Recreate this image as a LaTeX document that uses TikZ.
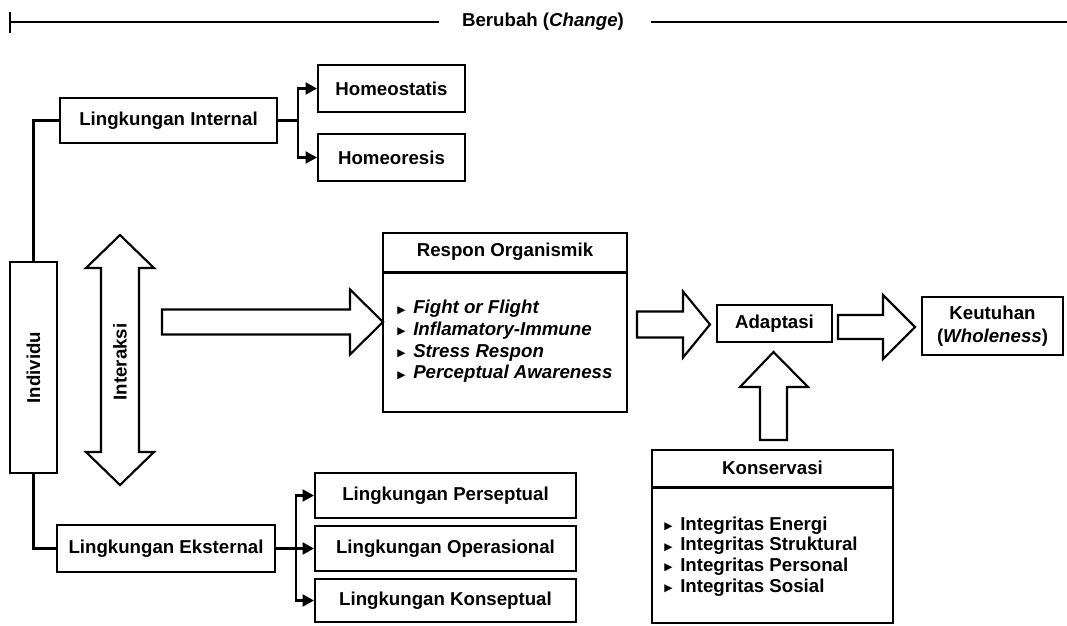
\documentclass[tikz,border=0pt]{standalone}
\usepackage{fontspec}
\setmainfont{Liberation Sans}
\newfontfamily\symfont{DejaVu Sans}
\usetikzlibrary{arrows.meta,calc}

% small triangular list bullet
\newcommand\bul{\makebox[12pt][l]{\upshape\raisebox{0.5pt}{\symfont\fontsize{8}{8}\selectfont ▶}}}

\begin{document}
\begin{tikzpicture}[x=0.75pt,y=-0.75pt,
  every node/.style={font=\fontsize{14}{17}\selectfont\bfseries, inner sep=0pt},
  box/.style={draw, line width=1.6pt, align=center},
  conn/.style={line width=1.6pt},
  arr/.style={conn, -{Triangle[length=8.5pt,width=9pt]}},
  blockarrow/.style={draw, line width=1.6pt, line join=miter, fill=white},
  axisline/.style={line width=1.8pt},
  listtext/.style={anchor=west, align=left},
]
\useasboundingbox (0,0) rectangle (1067,625);

% ---- time axis: change ----
\node (chg) at (543,22) {Berubah (\textit{Change})};
\coordinate (chgL) at (10,22);
\coordinate (chgT) at (10,12);
\coordinate (chgB) at (10,33);
\coordinate (chgR) at (1067,22);
\draw[axisline] (chgT) -- (chgB);
\draw[axisline] (chgL) -- ([xshift=-17pt]chg.west);
\draw[axisline] ([xshift=20pt]chg.east) -- (chgR);

% ---- individual and environments ----
\node[box, rotate=90, minimum width=158.25pt, minimum height=35.25pt] (ind) at (33.5,367.5) {Individu};

\node[box, minimum width=162.75pt, minimum height=33.75pt] (LI) at (168.5,120.5) {Lingkungan Internal};
\node[box, minimum width=110.25pt, minimum height=35.25pt] (HS) at (391.5,88.5) {Homeostatis};
\node[box, minimum width=110.25pt, minimum height=35.25pt] (HR) at (391.5,157.5) {Homeoresis};

\node[box, minimum width=163.5pt, minimum height=35.25pt] (LE) at (166,548.5) {Lingkungan Eksternal};
\node[box, minimum width=195.75pt, minimum height=33.75pt] (LP) at (445.5,495.5) {Lingkungan Perseptual};
\node[box, minimum width=195.75pt, minimum height=33.75pt] (LO) at (445.5,548.5) {Lingkungan Operasional};
\node[box, minimum width=195.75pt, minimum height=32.25pt] (LK) at (445.5,600.5) {Lingkungan Konseptual};

\draw[conn] (LI.west) -| (ind.east);
\draw[conn] (ind.west) |- (LE.west);

\draw[arr] (LI.east) -- ++(20,0) |- (HS.west);
\draw[arr] (LI.east) -- ++(20,0) |- (HR.west);

\draw[arr] (LE.east) -- ++(20,0) |- (LP.west);
\draw[arr] (LE.east) -- (LO.west);
\draw[arr] (LE.east) -- ++(20,0) |- (LK.west);

% ---- interaction (double block arrow) ----
\draw[blockarrow] (120,235) -- (154,268) -- (139,268) -- (139,452) -- (154,452)
  -- (120,485) -- (86,452) -- (101,452) -- (101,268) -- (86,268) -- cycle;
\node[rotate=90] (inter) at (120,362) {Interaksi};

% ---- organismic response ----
\node[box, minimum width=183pt, minimum height=134.25pt] (RO) at (505,322.5) {};
\node[minimum width=183pt, minimum height=30pt, anchor=north] (ROt) at (RO.north) {Respon Organismik};
\draw[conn] (ROt.south west) -- (ROt.south east);
\node[listtext, font=\fontsize{14}{16.3}\selectfont\bfseries\itshape] (ROl) at (397,341.5)
  {\bul Fight or Flight\\\bul Inflamatory-Immune\\\bul Stress Respon\\\bul Perceptual Awareness};

% ---- adaptation, wholeness, conservation ----
\node[box, minimum width=86.25pt, minimum height=27.75pt] (AD) at (774.5,323.5) {Adaptasi};
\node[box, minimum width=105.75pt, minimum height=43.5pt, font=\fontsize{14}{17.25}\selectfont\bfseries] (KT) at (992.5,326) {Keutuhan\\(\textit{Wholeness})};

\node[box, minimum width=180.75pt, minimum height=129.75pt] (KS) at (772.5,536.5) {};
\node[minimum width=180.75pt, minimum height=28.5pt, anchor=north] (KSt) at (KS.north) {Konservasi};
\draw[conn] (KSt.south west) -- (KSt.south east);
\node[listtext, font=\fontsize{14}{15.5}\selectfont\bfseries] (KSl) at (664,556.5)
  {\bul Integritas Energi\\\bul Integritas Struktural\\\bul Integritas Personal\\\bul Integritas Sosial};

% ---- block arrows ----
\draw[blockarrow] (162,309.5) -- (350,309.5) -- (350,289.5) -- (383,322) -- (350,354.5)
  -- (350,334.5) -- (162,334.5) -- cycle;
\draw[blockarrow] (637,311.5) -- (683,311.5) -- (683,291.5) -- (710,324.5) -- (683,357.5)
  -- (683,337.5) -- (637,337.5) -- cycle;
\draw[blockarrow] (838,315) -- (883,315) -- (883,295) -- (915,327) -- (883,359)
  -- (883,339) -- (838,339) -- cycle;
\draw[blockarrow] (760,440) -- (760,387) -- (740,387) -- (773.5,352) -- (808,387)
  -- (787,387) -- (787,440) -- cycle;
\end{tikzpicture}
\end{document}
